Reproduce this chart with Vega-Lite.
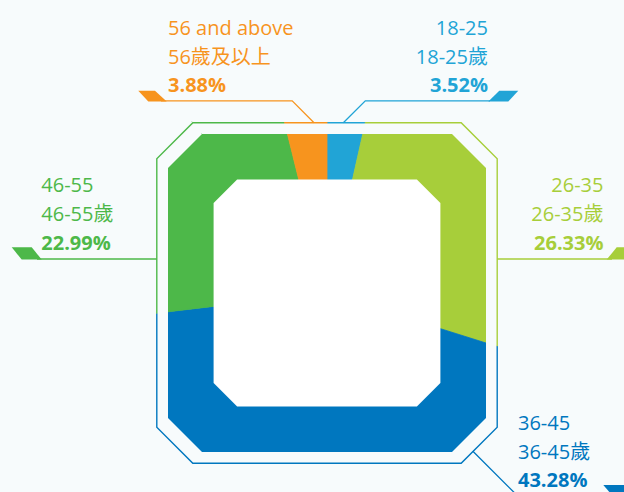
{
  "$schema": "https://vega.github.io/schema/vega-lite/v6.json",
  "width": 624,
  "height": 492,
  "autosize": "none",
  "padding": 0,
  "background": "#f7fbfc",
  "config": {"view": {"stroke": null}},
  "datasets": {
    "segments": [
      {"group": "18-25", "pct": 3.52, "idx": 1},
      {"group": "26-35", "pct": 26.33, "idx": 2},
      {"group": "36-45", "pct": 43.28, "idx": 3},
      {"group": "46-55", "pct": 22.99, "idx": 4},
      {"group": "56 and above", "pct": 3.88, "idx": 5}
    ],
    "shapes": [
      {"shape": "outerMask", "i": 0, "x": -340, "y": -305},
      {"shape": "outerMask", "i": 1, "x": 310, "y": -305},
      {"shape": "outerMask", "i": 2, "x": 310, "y": 215},
      {"shape": "outerMask", "i": 3, "x": -340, "y": 215},
      {"shape": "outerMask", "i": 4, "x": -340, "y": -305},
      {"shape": "outerMask", "i": 5, "x": -134.5, "y": -170.9},
      {"shape": "outerMask", "i": 6, "x": -170.9, "y": -134.5},
      {"shape": "outerMask", "i": 7, "x": -170.9, "y": 134.5},
      {"shape": "outerMask", "i": 8, "x": -134.5, "y": 170.9},
      {"shape": "outerMask", "i": 9, "x": 134.5, "y": 170.9},
      {"shape": "outerMask", "i": 10, "x": 170.9, "y": 134.5},
      {"shape": "outerMask", "i": 11, "x": 170.9, "y": -134.5},
      {"shape": "outerMask", "i": 12, "x": 134.5, "y": -170.9},
      {"shape": "outerMask", "i": 13, "x": -134.5, "y": -170.9},
      {"shape": "ring", "i": 0, "x": -133.9, "y": -169.5},
      {"shape": "ring", "i": 1, "x": 133.9, "y": -169.5},
      {"shape": "ring", "i": 2, "x": 169.5, "y": -133.9},
      {"shape": "ring", "i": 3, "x": 169.5, "y": 133.9},
      {"shape": "ring", "i": 4, "x": 133.9, "y": 169.5},
      {"shape": "ring", "i": 5, "x": -133.9, "y": 169.5},
      {"shape": "ring", "i": 6, "x": -169.5, "y": 133.9},
      {"shape": "ring", "i": 7, "x": -169.5, "y": -133.9},
      {"shape": "ring", "i": 8, "x": -133.9, "y": -169.5},
      {"shape": "ring", "i": 9, "x": -125, "y": -159},
      {"shape": "ring", "i": 10, "x": -159, "y": -125},
      {"shape": "ring", "i": 11, "x": -159, "y": 125},
      {"shape": "ring", "i": 12, "x": -125, "y": 159},
      {"shape": "ring", "i": 13, "x": 125, "y": 159},
      {"shape": "ring", "i": 14, "x": 159, "y": 125},
      {"shape": "ring", "i": 15, "x": 159, "y": -125},
      {"shape": "ring", "i": 16, "x": 125, "y": -159},
      {"shape": "ring", "i": 17, "x": -125, "y": -159},
      {"shape": "inner", "i": 0, "x": -89.9, "y": -113.4},
      {"shape": "inner", "i": 1, "x": 89.9, "y": -113.4},
      {"shape": "inner", "i": 2, "x": 113.4, "y": -89.9},
      {"shape": "inner", "i": 3, "x": 113.4, "y": 89.9},
      {"shape": "inner", "i": 4, "x": 89.9, "y": 113.4},
      {"shape": "inner", "i": 5, "x": -89.9, "y": 113.4},
      {"shape": "inner", "i": 6, "x": -113.4, "y": 89.9},
      {"shape": "inner", "i": 7, "x": -113.4, "y": -89.9}
    ],
    "leaders": [
      {"group": "56 and above", "i": 0, "x": -13, "y": -170.2},
      {"group": "56 and above", "i": 1, "x": -34.8, "y": -192.2},
      {"group": "56 and above", "i": 2, "x": -166, "y": -192.2},
      {"group": "18-25", "i": 0, "x": 16.3, "y": -170.2},
      {"group": "18-25", "i": 1, "x": 38.3, "y": -192.2},
      {"group": "18-25", "i": 2, "x": 163, "y": -192.2},
      {"group": "46-55", "i": 0, "x": -170.2, "y": -34},
      {"group": "46-55", "i": 1, "x": -290, "y": -34},
      {"group": "26-35", "i": 0, "x": 170.2, "y": -34},
      {"group": "26-35", "i": 1, "x": 285, "y": -34},
      {"group": "36-45", "i": 0, "x": 145.9, "y": 158.2},
      {"group": "36-45", "i": 1, "x": 190.7, "y": 203},
      {"group": "36-45", "i": 2, "x": 290, "y": 203}
    ],
    "tabs": [
      {"group": "56 and above", "i": 0, "x": -188.7, "y": -202.3},
      {"group": "56 and above", "i": 1, "x": -172, "y": -202.3},
      {"group": "56 and above", "i": 2, "x": -160.3, "y": -191.6},
      {"group": "56 and above", "i": 3, "x": -178.7, "y": -191.6},
      {"group": "18-25", "i": 0, "x": 172.3, "y": -202.3},
      {"group": "18-25", "i": 1, "x": 191.3, "y": -202.3},
      {"group": "18-25", "i": 2, "x": 181.3, "y": -191.6},
      {"group": "18-25", "i": 3, "x": 161.3, "y": -191.6},
      {"group": "46-55", "i": 0, "x": -315.3, "y": -45.7},
      {"group": "46-55", "i": 1, "x": -295.3, "y": -45.7},
      {"group": "46-55", "i": 2, "x": -285.3, "y": -33.4},
      {"group": "46-55", "i": 3, "x": -305.3, "y": -33.4},
      {"group": "26-35", "i": 0, "x": 289.7, "y": -45.7},
      {"group": "26-35", "i": 1, "x": 309.7, "y": -45.7},
      {"group": "26-35", "i": 2, "x": 299.7, "y": -33.4},
      {"group": "26-35", "i": 3, "x": 279.7, "y": -33.4},
      {"group": "36-45", "i": 0, "x": 276.3, "y": 192},
      {"group": "36-45", "i": 1, "x": 300, "y": 192},
      {"group": "36-45", "i": 2, "x": 300, "y": 203.6},
      {"group": "36-45", "i": 3, "x": 286.3, "y": 203.6}
    ],
    "labels": [
      {"group": "56 and above", "side": "left", "en": "56 and above", "zh": "56歲及以上", "pct": "3.88%", "x": -159, "y": -258},
      {"group": "46-55", "side": "left", "en": "46-55", "zh": "46-55歲", "pct": "22.99%", "x": -285.7, "y": -100.7},
      {"group": "36-45", "side": "left", "en": "36-45", "zh": "36-45歲", "pct": "43.28%", "x": 191, "y": 137},
      {"group": "18-25", "side": "right", "en": "18-25", "zh": "18-25歲", "pct": "3.52%", "x": 161, "y": -258},
      {"group": "26-35", "side": "right", "en": "26-35", "zh": "26-35歲", "pct": "26.33%", "x": 276.5, "y": -100.7}
    ]
  },
  "encoding": {
    "x": {"field": "x", "type": "quantitative", "scale": {"domain": [-327, 297], "nice": false, "zero": false}, "axis": null},
    "y": {"field": "y", "type": "quantitative", "scale": {"domain": [-293, 199], "nice": false, "zero": false, "reverse": true}, "axis": null}
  },
  "layer": [
    {
      "data": {"name": "shapes"},
      "transform": [{"filter": "datum.shape == 'inner'"}],
      "mark": {"type": "line", "interpolate": "linear-closed", "fill": "#ffffff", "strokeWidth": 0, "strokeOpacity": 0},
      "encoding": {"order": {"field": "i", "type": "quantitative"}}
    },
    {
      "data": {"name": "segments"},
      "mark": {"type": "arc", "outerRadius": 225, "innerRadius": 0, "strokeWidth": 0.8,
        "x": {"expr": "scale('x', 0)"}, "y": {"expr": "scale('y', 0)"}},
      "encoding": {
        "x": null,
        "y": null,
        "theta": {"field": "pct", "type": "quantitative", "stack": true},
        "order": {"field": "idx", "type": "quantitative"},
        "color": {"field": "group", "type": "nominal", "legend": null,
          "scale": {"domain": ["18-25", "26-35", "36-45", "46-55", "56 and above"], "range": ["#21a4d6", "#a7ce3a", "#0077bf", "#4db849", "#f7941e"]}},
        "stroke": {"field": "group", "type": "nominal", "legend": null,
          "scale": {"domain": ["18-25", "26-35", "36-45", "46-55", "56 and above"], "range": ["#21a4d6", "#a7ce3a", "#0077bf", "#4db849", "#f7941e"]}}
      }
    },
    {
      "data": {"name": "shapes"},
      "transform": [{"filter": "datum.shape == 'outerMask'"}],
      "mark": {"type": "line", "interpolate": "linear-closed", "fill": "#f7fbfc", "strokeWidth": 0, "strokeOpacity": 0},
      "encoding": {"order": {"field": "i", "type": "quantitative"}}
    },
    {
      "data": {"name": "shapes"},
      "transform": [{"filter": "datum.shape == 'ring'"}],
      "mark": {"type": "line", "interpolate": "linear-closed", "fill": "#f7fbfc", "strokeWidth": 0, "strokeOpacity": 0},
      "encoding": {"order": {"field": "i", "type": "quantitative"}}
    },
    {
      "data": {"name": "shapes"},
      "transform": [{"filter": "datum.shape == 'inner'"}],
      "mark": {"type": "line", "interpolate": "linear-closed", "fill": "#ffffff", "strokeWidth": 0, "strokeOpacity": 0},
      "encoding": {"order": {"field": "i", "type": "quantitative"}}
    },
    {
      "data": {"name": "leaders"},
      "mark": {"type": "line", "strokeWidth": 1.3},
      "encoding": {
        "order": {"field": "i", "type": "quantitative"},
        "color": {"field": "group", "type": "nominal", "legend": null}
      }
    },
    {
      "data": {"name": "tabs"},
      "mark": {"type": "line", "interpolate": "linear-closed", "strokeWidth": 0, "strokeOpacity": 0},
      "encoding": {
        "order": {"field": "i", "type": "quantitative"},
        "detail": {"field": "group", "type": "nominal"},
        "fill": {"field": "group", "type": "nominal", "legend": null,
          "scale": {"domain": ["18-25", "26-35", "36-45", "46-55", "56 and above"], "range": ["#21a4d6", "#a7ce3a", "#0077bf", "#4db849", "#f7941e"]}}
      }
    },
    {
      "data": {"name": "labels"},
      "transform": [{"filter": "datum.side == 'left'"}],
      "mark": {"type": "text", "align": "left", "baseline": "alphabetic", "font": "Open Sans, Noto Sans CJK TC", "fontSize": 20},
      "encoding": {"text": {"field": "en"}, "color": {"field": "group", "type": "nominal", "legend": null}}
    },
    {
      "data": {"name": "labels"},
      "transform": [{"filter": "datum.side == 'left'"}],
      "mark": {"type": "text", "align": "left", "baseline": "alphabetic", "dy": 28.5, "font": "Open Sans, Noto Sans CJK TC", "fontSize": 20},
      "encoding": {"text": {"field": "zh"}, "color": {"field": "group", "type": "nominal", "legend": null}}
    },
    {
      "data": {"name": "labels"},
      "transform": [{"filter": "datum.side == 'left'"}],
      "mark": {"type": "text", "align": "left", "baseline": "alphabetic", "dy": 57.3, "font": "Open Sans, Noto Sans CJK TC", "fontSize": 20, "fontWeight": "bold"},
      "encoding": {"text": {"field": "pct"}, "color": {"field": "group", "type": "nominal", "legend": null}}
    },
    {
      "data": {"name": "labels"},
      "transform": [{"filter": "datum.side == 'right'"}],
      "mark": {"type": "text", "align": "right", "baseline": "alphabetic", "font": "Open Sans, Noto Sans CJK TC", "fontSize": 20},
      "encoding": {"text": {"field": "en"}, "color": {"field": "group", "type": "nominal", "legend": null}}
    },
    {
      "data": {"name": "labels"},
      "transform": [{"filter": "datum.side == 'right'"}],
      "mark": {"type": "text", "align": "right", "baseline": "alphabetic", "dy": 28.5, "font": "Open Sans, Noto Sans CJK TC", "fontSize": 20},
      "encoding": {"text": {"field": "zh"}, "color": {"field": "group", "type": "nominal", "legend": null}}
    },
    {
      "data": {"name": "labels"},
      "transform": [{"filter": "datum.side == 'right'"}],
      "mark": {"type": "text", "align": "right", "baseline": "alphabetic", "dy": 57.3, "font": "Open Sans, Noto Sans CJK TC", "fontSize": 20, "fontWeight": "bold"},
      "encoding": {"text": {"field": "pct"}, "color": {"field": "group", "type": "nominal", "legend": null}}
    }
  ]
}
